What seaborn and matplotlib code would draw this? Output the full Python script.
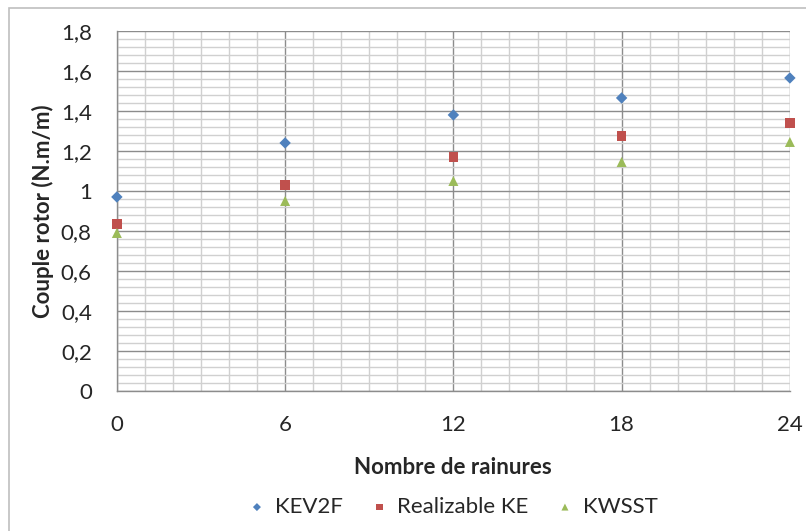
import matplotlib
matplotlib.use('Agg')
import matplotlib.pyplot as plt
import seaborn as sns
import pandas as pd
from matplotlib.ticker import MultipleLocator, FuncFormatter

# ── Data ──────────────────────────────────────────────────────────────────
rainures = [0, 6, 12, 18, 24]
kev2f = [0.97, 1.24, 1.38, 1.465, 1.565]
realizable_ke = [0.835, 1.03, 1.17, 1.275, 1.34]
kwsst = [0.79, 0.95, 1.05, 1.145, 1.245]
series_names = ['KEV2F', 'Realizable KE', 'KWSST']

df = pd.DataFrame({
    'x': rainures * 3,
    'y': kev2f + realizable_ke + kwsst,
    'serie': [s for s in series_names for _ in rainures],
})

sns.set_style('white')
plt.rcParams['font.family'] = ['Lato', 'DejaVu Sans']

fig = plt.figure(figsize=(8.06, 5.31), dpi=100)
ax = fig.add_axes([0.145, 0.2637, 0.835, 0.678])

palette = {'KEV2F': '#4F81BD', 'Realizable KE': '#C0504D', 'KWSST': '#9BBB59'}
markers = {'KEV2F': 'D', 'Realizable KE': 's', 'KWSST': '^'}
sizes = {'KEV2F': 34, 'Realizable KE': 48, 'KWSST': 52}
for s in series_names:
    sub = df[df['serie'] == s]
    sns.scatterplot(data=sub, x='x', y='y', color=palette[s], marker=markers[s],
                    s=sizes[s], edgecolor='none', ax=ax, label=s, zorder=5,
                    clip_on=False)

ax.set_xlim(0, 24)
ax.set_ylim(0, 1.8)
ax.xaxis.set_major_locator(MultipleLocator(6))
ax.xaxis.set_minor_locator(MultipleLocator(1))
ax.yaxis.set_major_locator(MultipleLocator(0.2))
ax.yaxis.set_minor_locator(MultipleLocator(0.04))
ax.grid(which='major', color='#8c8c8c', linewidth=1.0)
ax.grid(which='minor', color='#d0d0d0', linewidth=1.0)
ax.set_axisbelow(True)

def fmt(v, pos):
    s = ('%.1f' % v).rstrip('0').rstrip('.')
    return s.replace('.', ',')
ax.yaxis.set_major_formatter(FuncFormatter(fmt))

for side in ['top', 'right']:
    ax.spines[side].set_visible(False)
for side in ['left', 'bottom']:
    ax.spines[side].set_color('#8c8c8c')
    ax.spines[side].set_linewidth(1.0)

ax.tick_params(axis='both', which='both', length=0, labelsize=16)
ax.tick_params(axis='x', pad=17)
ax.tick_params(axis='y', pad=18)
ax.set_xlabel('Nombre de rainures', fontsize=16, fontweight='bold', labelpad=16)
ax.set_ylabel('Couple rotor (N.m/m)', fontsize=16, fontweight='bold', labelpad=5)

leg = ax.legend(loc='center', bbox_to_anchor=(0.5, -0.322), ncol=3, frameon=False,
                fontsize=16, handlelength=0.7, handletextpad=0.45,
                columnspacing=1.3, markerscale=0.7)

border = plt.Rectangle((9 / 806, -0.05), 1.2, 1 - 8 / 531 + 0.05,
                       transform=fig.transFigure, fill=False,
                       edgecolor='#bfbfbf', linewidth=1.2, clip_on=False)
fig.add_artist(border)

fig.savefig('out.png', dpi=100)
